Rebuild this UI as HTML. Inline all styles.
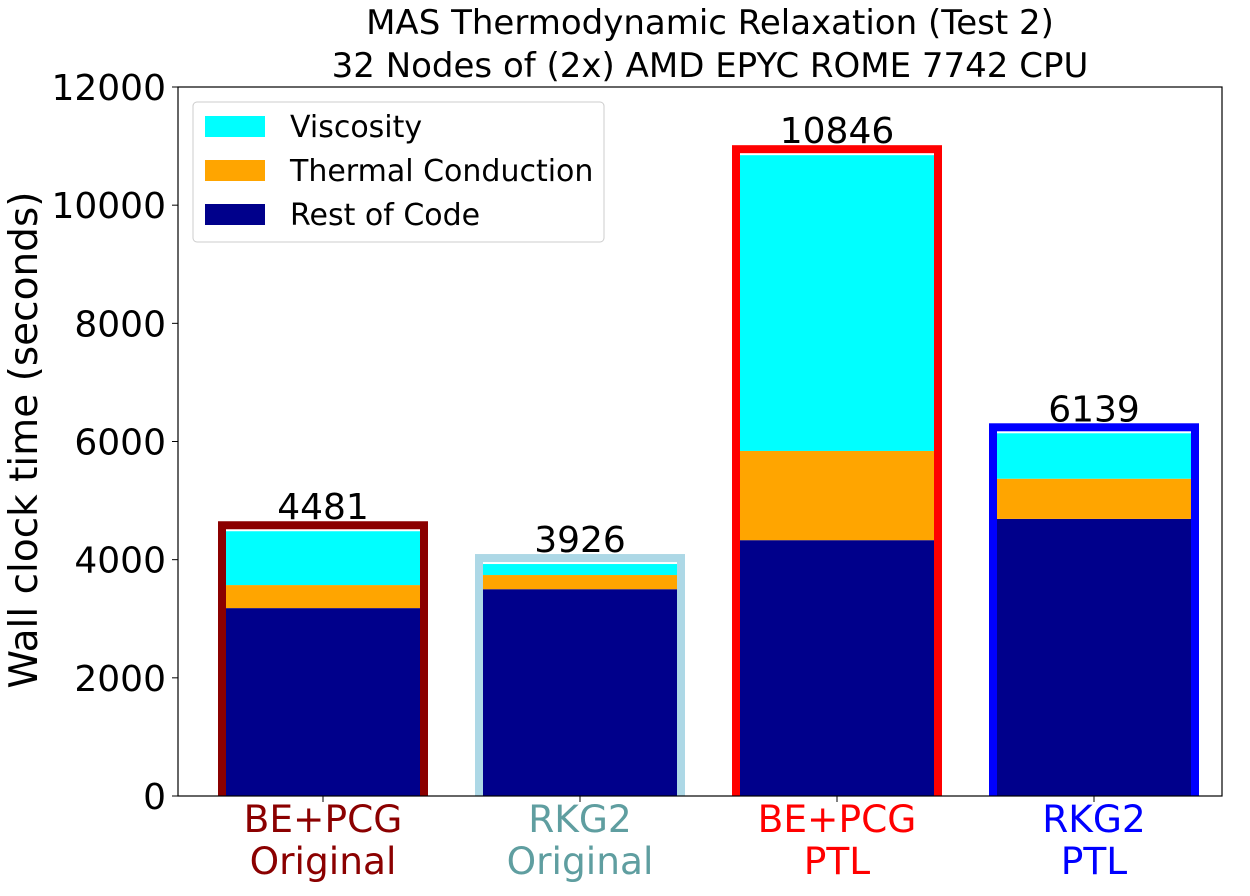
<!DOCTYPE html>
<html><head><meta charset="utf-8"><style>
body{margin:0;background:#fff;}
svg text{font-family:"DejaVu Sans","Liberation Sans",sans-serif;}
</style></head><body>
<svg id="chart" width="1250" height="891" xmlns="http://www.w3.org/2000/svg">
<text x="710" y="34" font-size="34" text-anchor="middle">MAS Thermodynamic Relaxation (Test 2)</text>
<text x="710" y="77" font-size="34" text-anchor="middle">32 Nodes of (2x) AMD EPYC ROME 7742 CPU</text>
<text transform="translate(37,440) rotate(-90)" font-size="39" text-anchor="middle">Wall clock time (seconds)</text>
<g id="bars"></g>
<rect x="178" y="87" width="1044" height="709" fill="none" stroke="#000" stroke-width="1.2"/>
<g id="axis"></g>
<g>
<rect x="193" y="102" width="411" height="140" rx="4" fill="#fff" fill-opacity="0.8" stroke="#ccc"/>
<rect x="205" y="116" width="60" height="21" fill="#00ffff"/>
<text x="290" y="137" font-size="30">Viscosity</text>
<rect x="205" y="160" width="60" height="21" fill="#ffa500"/>
<text x="290" y="181" font-size="30">Thermal Conduction</text>
<rect x="205" y="204" width="60" height="21" fill="#00008b"/>
<text x="290" y="225" font-size="30">Rest of Code</text>
</g>
</svg>
<script>
const categories1 = ["BE+PCG","RKG2","BE+PCG","RKG2"];
const categories2 = ["Original","Original","PTL","PTL"];
const restOfCode = [3180, 3500, 4330, 4690];
const thermal = [390, 240, 1510, 680];
const viscosity = [911, 186, 5006, 769];
const totals = [4481, 3926, 10846, 6139];
const yTicks = [0,2000,4000,6000,8000,10000,12000];
const edgeColors = ["#8b0000","#add8e6","#ff0000","#0000ff"];
const labelColors = ["#8b0000","#5f9ea0","#ff0000","#0000ff"];

const NS="http://www.w3.org/2000/svg";
const X0=178,X1=1222,Y0=796,Y1=87;
const yS=v=>Y0-(v/12000)*(Y0-Y1);
const xC=i=>323+257*i;
const bw=194;
function mk(tag,attrs,parent){const e=document.createElementNS(NS,tag);for(const k in attrs)e.setAttribute(k,attrs[k]);parent.appendChild(e);return e;}
const bars=document.getElementById('bars'), axis=document.getElementById('axis');
for(let i=0;i<4;i++){
  const x=xC(i)-bw/2;
  const t=totals[i];
  const o=mk('rect',{x:x-8,y:yS(t)-10,width:bw+16,height:Y0-yS(t)+10,fill:edgeColors[i]},bars);
  
  
  mk('rect',{x:x,y:yS(t)-2,width:bw,height:Y0-yS(t)+2,fill:'#fff'},bars);
  let base=0;
  const segs=[[restOfCode[i],'#00008b','rest'],[thermal[i],'#ffa500','thermal'],[viscosity[i],'#00ffff','viscosity']];
  for(const [v,c,n] of segs){
    const r=mk('rect',{x:x,y:yS(base+v),width:bw,height:yS(base)-yS(base+v),fill:c},bars);
    
    
    base+=v;
  }
  const lbl=mk('text',{x:xC(i),y:yS(t)-12,'font-size':36,'text-anchor':'middle'},bars);
  lbl.textContent=t;
  
  
  mk('line',{x1:xC(i),x2:xC(i),y1:Y0,y2:Y0+6,stroke:'#000'},axis);
  const a=mk('text',{x:xC(i),y:832,'font-size':37.5,'text-anchor':'middle',fill:labelColors[i]},axis);
  a.textContent=categories1[i];
  
  
  const b=mk('text',{x:xC(i),y:874,'font-size':37.5,'text-anchor':'middle',fill:labelColors[i]},axis);
  b.textContent=categories2[i];
  
  
}
for(const v of yTicks){
  mk('line',{x1:X0-6,x2:X0,y1:yS(v),y2:yS(v),stroke:'#000'},axis);
  const t=mk('text',{x:X0-12,y:yS(v)+13,'font-size':36,'text-anchor':'end'},axis);
  t.textContent=v;
  
  
}
</script>
</body></html>
